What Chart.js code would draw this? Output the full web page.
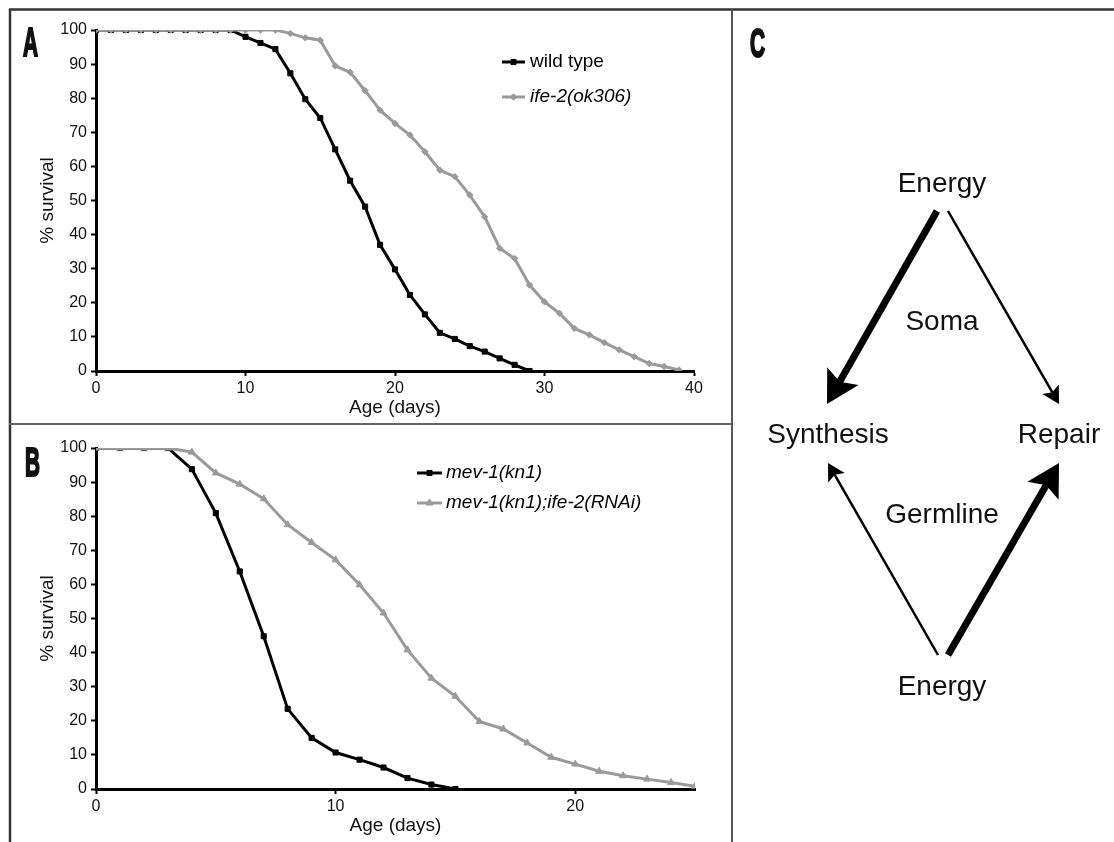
<!DOCTYPE html>
<html lang="en">
<head>
<meta charset="utf-8">
<title>ife-2 survival and energy allocation</title>
<script src="https://cdn.jsdelivr.net/npm/chart.js@4.4.1/dist/chart.umd.min.js"></script>
<style>
  body { margin: 0; background: #fff; }
  #page { position: relative; width: 1114px; height: 842px; overflow: hidden; }
  .panel { position: absolute; }
  #frame { position: absolute; left: 0; top: 0; }
</style>
</head>
<body>
<div id="page">
  <div class="panel" style="left:12px;top:12px;width:702px;height:409px"><canvas id="chartA"></canvas></div>
  <div class="panel" style="left:12px;top:430px;width:702px;height:409px"><canvas id="chartB"></canvas></div>
  <svg id="frame" width="1114" height="842"></svg>
</div>

<script>
// ---- panel A: wild type vs ife-2(ok306)
const daysWT = [0,1,2,3,4,5,6,7,8,9,10,11,12,13,14,15,16,17,18,19,20,21,22,23,24,25,26,27,28,29];
const survWT = [100,100,100,100,100,100,100,100,100,100,98,96.2,94.4,87.3,79.7,74.2,65,55.8,48.2,37,
                29.8,22.3,16.6,11.2,9.4,7.3,5.7,3.7,1.8,0];
const daysIfe = [0,1,2,3,4,5,6,7,8,9,10,11,12,13,14,15,16,17,18,19,20,21,22,23,24,25,26,27,28,29,
                 30,31,32,33,34,35,36,37,38,39];
const survIfe = [100,100,100,100,100,100,100,100,100,100,100,100,100,99,97.7,97,89.5,87.6,82.2,76.5,
                 72.6,69.2,64.3,58.9,57,51.6,45.2,36,33,25.2,20.3,16.9,12.5,10.6,8.3,6.2,4.2,2.2,1.3,0.3];

// ---- panel B: mev-1(kn1) vs mev-1(kn1);ife-2(RNAi)
const daysMev = [0,1,2,3,4,5,6,7,8,9,10,11,12,13,14,15];
const survMev = [100,100,100,100,93.8,80.9,63.8,44.8,23.5,15,10.7,8.6,6.3,3.2,1.3,0];
const daysRnai = [0,1,2,3,4,5,6,7,8,9,10,11,12,13,14,15,16,17,18,19,20,21,22,23,24,25];
const survRnai = [100,100,100,100,98.8,92.7,89.4,85.1,77.5,72.3,67.2,59.9,51.6,40.8,32.5,27.2,
                  19.8,17.6,13.5,9.3,7.3,5.2,3.9,2.9,1.9,0.8];

const yTicks = [0,10,20,30,40,50,60,70,80,90,100];

const FONT = "'Liberation Sans', Arial, sans-serif";
const BLACK = '#000000';
const GREY = '#9a9a9a';

function pts(xs, ys) {
  return xs.map((x, i) => ({ x: x, y: ys[i] }));
}

function series(label, xs, ys, color, style, radius, order) {
  return {
    label: label,
    data: pts(xs, ys),
    borderColor: color,
    backgroundColor: color,
    pointBackgroundColor: color,
    pointBorderColor: color,
    borderWidth: 3,
    pointStyle: style,
    pointRadius: radius,
    pointBorderWidth: 1,
    tension: 0,
    order: order
  };
}

// legend drawn inside the plot, line sample + marker, italics per entry
const cornerLegend = {
  id: 'cornerLegend',
  afterDatasetsDraw(chart, args, opts) {
    const ctx = chart.ctx;
    ctx.save();
    chart.data.datasets.forEach((ds, i) => {
      const y = opts.y + i * opts.gap;
      ctx.strokeStyle = ds.borderColor;
      ctx.lineWidth = ds.borderWidth;
      ctx.beginPath();
      ctx.moveTo(opts.x, y);
      ctx.lineTo(opts.x + opts.len, y);
      ctx.stroke();
      if (Chart.helpers && Chart.helpers.drawPoint) {
        ctx.fillStyle = ds.pointBackgroundColor;
        ctx.strokeStyle = ds.pointBorderColor;
        ctx.lineWidth = 1;
        Chart.helpers.drawPoint(ctx, { pointStyle: ds.pointStyle, radius: ds.pointRadius, rotation: 0, borderWidth: 1 },
          opts.x + opts.len / 2, y);
      }
      ctx.fillStyle = '#000';
      ctx.font = (opts.italic[i] ? 'italic ' : '') + '19px ' + FONT;
      ctx.textBaseline = 'middle';
      ctx.textAlign = 'left';
      ctx.fillText(ds.label, opts.x + opts.len + opts.textGap, y);
    });
    ctx.restore();
  }
};

function makeOptions(xMax, legend) {
  return {
    responsive: true,
    maintainAspectRatio: false,
    animation: false,
    layout: { padding: { top: 18, right: legend.padRight, bottom: 0, left: 0 } },
    plugins: {
      legend: { display: false },
      tooltip: { enabled: false },
      cornerLegend: legend
    },
    scales: {
      x: {
        type: 'linear',
        min: 0,
        max: xMax,
        afterBuildTicks: (s) => { s.ticks = s.ticks.filter(t => t.value % 10 === 0); },
        afterFit: (s) => { s.height = 50; },
        ticks: { stepSize: 10, color: '#111', padding: 3, font: { family: FONT, size: 16 } },
        grid: { display: true, drawOnChartArea: false, drawTicks: true, tickLength: 5, tickWidth: 2, tickColor: BLACK },
        border: { display: true, color: BLACK, width: 3 },
        title: { display: true, text: 'Age (days)', color: '#111', padding: { top: 0, bottom: 2 },
                 font: { family: FONT, size: 19 } }
      },
      y: {
        min: 0,
        max: 100,
        afterBuildTicks: (s) => { s.ticks = yTicks.map(v => ({ value: v })); },
        afterFit: (s) => { s.width = 84; },
        ticks: { color: '#111', padding: 4, font: { family: FONT, size: 16 } },
        grid: { display: true, drawOnChartArea: false, drawTicks: true, tickLength: 5, tickWidth: 2, tickColor: BLACK },
        border: { display: true, color: BLACK, width: 3 },
        title: { display: true, text: '% survival', color: '#111', padding: { top: 24, bottom: 0 },
                 font: { family: FONT, size: 19 } }
      }
    }
  };
}

new Chart(document.getElementById('chartA'), {
  type: 'line',
  data: {
    datasets: [
      series('wild type', daysWT, survWT, BLACK, 'rect', 3.6, 1),
      series('ife-2(ok306)', daysIfe, survIfe, GREY, 'rectRot', 3.2, 0)
    ]
  },
  options: makeOptions(40, { x: 490, y: 50, gap: 35, len: 23, textGap: 5, italic: [false, true], padRight: 20 }),
  plugins: [cornerLegend]
});

new Chart(document.getElementById('chartB'), {
  type: 'line',
  data: {
    datasets: [
      series('mev-1(kn1)', daysMev, survMev, BLACK, 'rect', 3.6, 1),
      series('mev-1(kn1);ife-2(RNAi)', daysRnai, survRnai, GREY, 'triangle', 4, 0)
    ]
  },
  options: makeOptions(25, { x: 405, y: 43, gap: 30, len: 25, textGap: 4, italic: [true, true], padRight: 19 }),
  plugins: [cornerLegend]
});

// ---- frame, panel letters and panel C diagram
const svgNS = 'http://www.w3.org/2000/svg';
const frame = document.getElementById('frame');
function add(tag, attrs, text) {
  const el = document.createElementNS(svgNS, tag);
  for (const k in attrs) el.setAttribute(k, attrs[k]);
  if (text) el.textContent = text;
  frame.appendChild(el);
  return el;
}

const rules = [
  [9, 9.5, 1114, 9.5, '#333', 2.5],
  [10, 9, 10, 842, '#333', 2.5],
  [732, 9, 732, 842, '#555', 2],
  [9, 424, 732, 424, '#666', 2]
];
rules.forEach(r => add('line', { x1: r[0], y1: r[1], x2: r[2], y2: r[3], stroke: r[4], 'stroke-width': r[5] }));

const letters = [['A', 23, 56], ['B', 25, 476], ['C', 750, 57]];
letters.forEach(l => add('text', {
  transform: 'translate(' + l[1] + ',' + l[2] + ') scale(0.52,1)',
  'font-family': FONT, 'font-weight': 'bold', 'font-size': 40, fill: '#111',
  stroke: '#111', 'stroke-width': 2.2
}, l[0]));

const words = [
  ['Energy', 942, 192], ['Soma', 942, 330], ['Synthesis', 828, 443],
  ['Repair', 1059, 443], ['Germline', 942, 523], ['Energy', 942, 695]
];
words.forEach(w => add('text', {
  x: w[1], y: w[2], 'text-anchor': 'middle', 'font-family': FONT, 'font-size': 28, fill: '#111'
}, w[0]));

// [fromX, fromY, tipX, tipY, lineWidth, headLength, headHalfWidth]
const arrows = [
  [937, 211, 827, 404, 7, 32, 18],
  [948, 211, 1059, 404, 2.5, 17, 9.5],
  [938, 655, 828, 463, 2.5, 17, 9.5],
  [948, 655, 1059, 463, 7, 32, 18]
];
arrows.forEach(a => {
  const dx = a[2] - a[0], dy = a[3] - a[1];
  const len = Math.hypot(dx, dy);
  const ux = dx / len, uy = dy / len;
  const nx = -uy, ny = ux;
  const bx = a[2] - ux * a[5], by = a[3] - uy * a[5];
  const kx = a[2] - ux * a[5] * 0.8, ky = a[3] - uy * a[5] * 0.8;
  add('line', { x1: a[0], y1: a[1], x2: kx, y2: ky, stroke: '#000', 'stroke-width': a[4] });
  const p = [
    [a[2], a[3]],
    [bx + nx * a[6], by + ny * a[6]],
    [kx, ky],
    [bx - nx * a[6], by - ny * a[6]]
  ];
  add('polygon', { points: p.map(q => q[0].toFixed(1) + ',' + q[1].toFixed(1)).join(' '), fill: '#000' });
});
</script>
</body>
</html>
